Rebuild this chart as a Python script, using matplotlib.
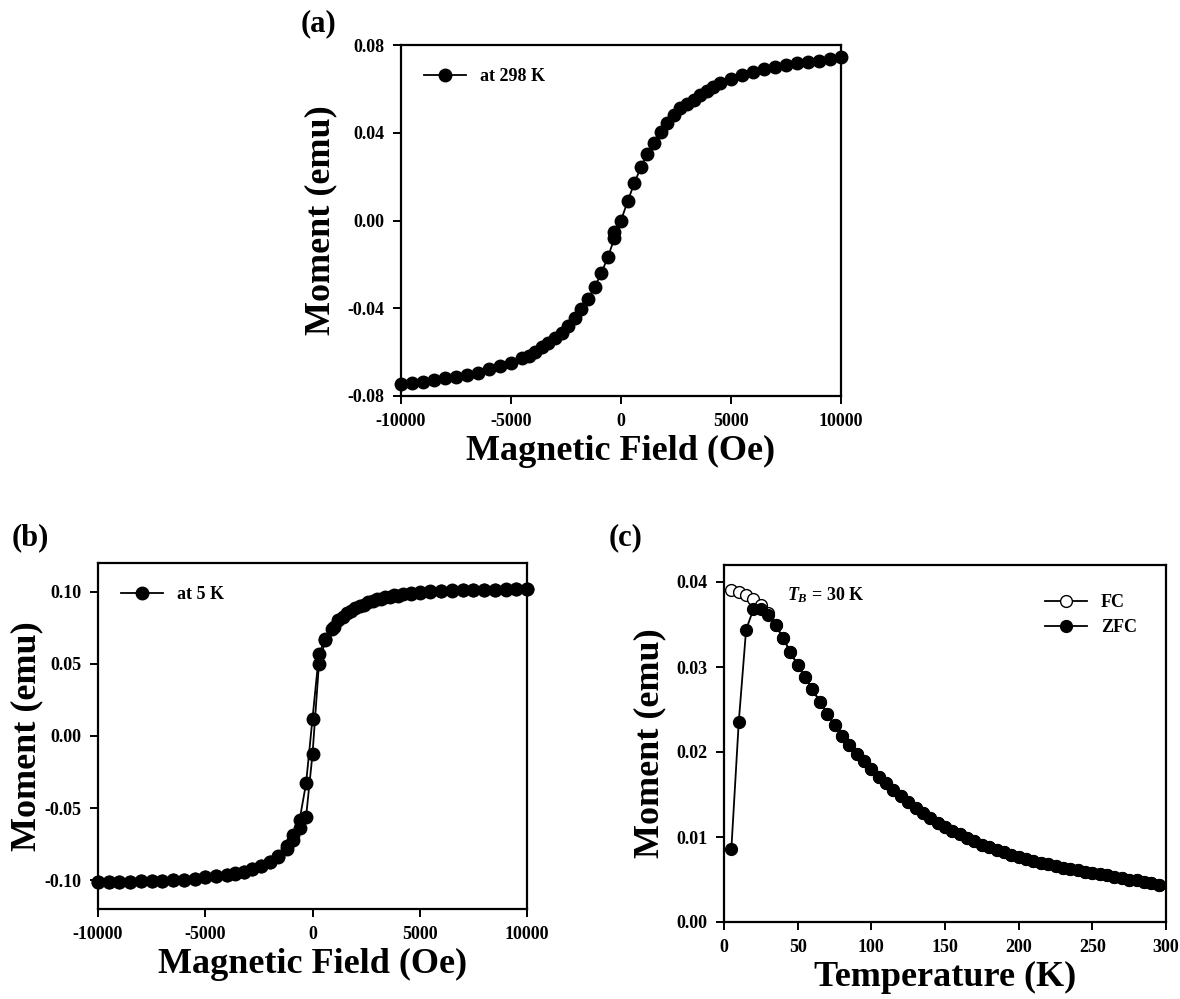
import matplotlib
matplotlib.use("Agg")
import matplotlib.pyplot as plt
from matplotlib.ticker import FormatStrFormatter

plt.rcParams['font.family'] = ['Liberation Serif', 'DejaVu Serif']
plt.rcParams['font.weight'] = 'bold'
plt.rcParams['axes.unicode_minus'] = False
plt.rcParams['mathtext.fontset'] = 'custom'
plt.rcParams['mathtext.it'] = 'Liberation Serif:italic:bold'
plt.rcParams['mathtext.rm'] = 'Liberation Serif:bold'
plt.rcParams['mathtext.bf'] = 'Liberation Serif:bold'

# ---------------- Panel (a): M-H at 298 K ----------------
field_298 = [-10000, -9500, -9000, -8500, -8000, -7500, -7000, -6500, -6000, -5500,
             -5000, -4500, -4200, -3900, -3600, -3300, -3000, -2700, -2400, -2100,
             -1800, -1500, -1200, -900, -600, -300, -300, 0, 300, 600, 900, 1200,
             1500, 1800, 2100, 2400, 2700, 3000, 3300, 3600, 3900, 4200, 4500,
             5000, 5500, 6000, 6500, 7000, 7500, 8000, 8500, 9000, 9500, 10000]
moment_298 = [-0.0747, -0.0742, -0.0735, -0.0727, -0.0720, -0.0715, -0.0705, -0.0694,
              -0.0679, -0.0663, -0.0648, -0.0628, -0.0616, -0.0598, -0.0578, -0.0560,
              -0.0537, -0.0511, -0.0481, -0.0446, -0.0405, -0.0358, -0.0305, -0.0241,
              -0.0168, -0.0081, -0.0051, 0.0000, 0.0087, 0.0169, 0.0242, 0.0303,
              0.0355, 0.0402, 0.0443, 0.0481, 0.0511, 0.0530, 0.0549, 0.0572, 0.0592,
              0.0607, 0.0625, 0.0645, 0.0663, 0.0679, 0.0691, 0.0701, 0.0711, 0.0720,
              0.0724, 0.0729, 0.0735, 0.0744]

# ---------------- Panel (b): M-H loop at 5 K ----------------
field_5K_down = [10000, 9500, 9000, 8500, 8000, 7500, 7000, 6500, 6000, 5500, 5000,
                 4600, 4200, 3800, 3400, 3000, 2600, 2200, 1800, 1400, 1000, 600, 300,
                 0, -300, -600, -900, -1200, -1600, -2000, -2400, -2800, -3200, -3600,
                 -4000, -4500, -5000, -5500, -6000, -6500, -7000, -7500, -8000, -8500,
                 -9000, -9500, -10000]
moment_5K_down = [0.1019, 0.1018, 0.1017, 0.1016, 0.1015, 0.1014, 0.1012, 0.1010, 0.1008,
                  0.1003, 0.0997, 0.0991, 0.0984, 0.0975, 0.0964, 0.0949, 0.0929, 0.0903,
                  0.0870, 0.0822, 0.0757, 0.0676, 0.0568, 0.0121, -0.0329, -0.0580,
                  -0.0690, -0.0765, -0.0830, -0.0872, -0.0900, -0.0922, -0.0940, -0.0953,
                  -0.0963, -0.0973, -0.0981, -0.0990, -0.0996, -0.1000, -0.1004, -0.1007,
                  -0.1009, -0.1010, -0.1011, -0.1012, -0.1013]
field_5K_up = [-10000, -9500, -9000, -8500, -8000, -7500, -7000, -6500, -6000, -5500,
               -5000, -4500, -4000, -3600, -3200, -2800, -2400, -2000, -1600, -1200, -900,
               -600, -300, 0, 300, 600, 900, 1200, 1600, 2000, 2400, 2800, 3200, 3600,
               4000, 4600, 5000, 5500, 6000, 6500, 7000, 7500, 8000, 8500, 9000, 9500,
               10000]
moment_5K_up = [-0.1013, -0.1012, -0.1011, -0.1010, -0.1009, -0.1007, -0.1004, -0.1000,
                -0.0996, -0.0990, -0.0981, -0.0974, -0.0965, -0.0955, -0.0942, -0.0925,
                -0.0903, -0.0876, -0.0838, -0.0785, -0.0720, -0.0640, -0.0561, -0.0126,
                0.0498, 0.0665, 0.0745, 0.0805, 0.0850, 0.0885, 0.0912, 0.0933, 0.0950,
                0.0962, 0.0972, 0.0985, 0.0995, 0.1002, 0.1006, 0.1009, 0.1011, 0.1013,
                0.1014, 0.1015, 0.1016, 0.1017, 0.1019]

# ---------------- Panel (c): FC / ZFC ----------------
temperature = [5, 10, 15, 20, 25, 30, 35, 40, 45, 50, 55, 60, 65, 70, 75, 80, 85, 90, 95,
               100, 105, 110, 115, 120, 125, 130, 135, 140, 145, 150, 155, 160, 165, 170,
               175, 180, 185, 190, 195, 200, 205, 210, 215, 220, 225, 230, 235, 240, 245,
               250, 255, 260, 265, 270, 275, 280, 285, 290, 295]
moment_zfc = [0.0086, 0.0235, 0.0344, 0.0368, 0.0368, 0.0361, 0.0350, 0.0334, 0.0318,
              0.0302, 0.0288, 0.0274, 0.0259, 0.0245, 0.0232, 0.0219, 0.0208, 0.0198,
              0.0189, 0.0180, 0.0171, 0.0163, 0.0155, 0.0148, 0.0141, 0.0134, 0.0128,
              0.0122, 0.0117, 0.0112, 0.0107, 0.0103, 0.0099, 0.0095, 0.0091, 0.0088,
              0.0085, 0.0082, 0.0079, 0.0077, 0.0074, 0.0072, 0.0070, 0.0068, 0.0066,
              0.0064, 0.0062, 0.0061, 0.0059, 0.0058, 0.0056, 0.0055, 0.0053, 0.0052,
              0.0050, 0.0049, 0.0047, 0.0046, 0.0044]
moment_fc = [0.0391, 0.0388, 0.0385, 0.0380, 0.0373, 0.0363, 0.0350, 0.0334, 0.0318,
             0.0302, 0.0288, 0.0274, 0.0259, 0.0245, 0.0232, 0.0219, 0.0208, 0.0198,
             0.0189, 0.0180, 0.0171, 0.0163, 0.0155, 0.0148, 0.0141, 0.0134, 0.0128,
             0.0122, 0.0117, 0.0112, 0.0107, 0.0103, 0.0099, 0.0095, 0.0091, 0.0088,
             0.0085, 0.0082, 0.0079, 0.0077, 0.0074, 0.0072, 0.0070, 0.0068, 0.0066,
             0.0064, 0.0062, 0.0061, 0.0059, 0.0058, 0.0056, 0.0055, 0.0053, 0.0052,
             0.0050, 0.0049, 0.0047, 0.0046, 0.0044]

W, H = 1180, 999
fig = plt.figure(figsize=(W / 100, H / 100), dpi=100)


def ax_at(left, top, right, bottom):
    return fig.add_axes([left / W, 1 - bottom / H, (right - left) / W, (bottom - top) / H])


TICK_FS = 13
LABEL_FS = 26
LEG_FS = 13


def style(ax):
    for s in ax.spines.values():
        s.set_linewidth(1.6)
    ax.tick_params(direction='out', length=6, width=1.4, labelsize=TICK_FS, pad=6)
    for lab in ax.get_xticklabels() + ax.get_yticklabels():
        lab.set_fontweight('bold')


def place_ylabel(ax, x_px, left_px, width_px):
    ax.set_ylabel('Moment (emu)', fontsize=LABEL_FS, fontweight='bold', va='center')
    ax.yaxis.set_label_coords((x_px - left_px) / width_px, 0.5)


line_kw = dict(color='black', lw=1.3, marker='o', markersize=9, markerfacecolor='black',
               markeredgecolor='black', markeredgewidth=1.0)

# ---- (a)
axa = ax_at(401, 45, 841, 396)
axa.plot(field_298, moment_298, label='at 298 K', **line_kw)
axa.set_xlim(-10000, 10000)
axa.set_ylim(-0.08, 0.08)
axa.set_xticks([-10000, -5000, 0, 5000, 10000])
axa.set_yticks([-0.08, -0.04, 0.0, 0.04, 0.08])
axa.yaxis.set_major_formatter(FormatStrFormatter('%.2f'))
axa.set_xlabel('Magnetic Field (Oe)', fontsize=LABEL_FS, fontweight='bold', labelpad=4)
place_ylabel(axa, 321, 401, 440)
axa.legend(loc='upper left', frameon=False, handlelength=2.3, borderaxespad=0.9,
           prop={'weight': 'bold', 'size': LEG_FS})
style(axa)
for p in axa.lines:
    p.set_clip_on(False)

# ---- (b)
axb = ax_at(98, 563, 527, 909)
axb.plot(field_5K_down, moment_5K_down, label='at 5 K', **line_kw)
axb.plot(field_5K_up, moment_5K_up, **line_kw)
axb.set_xlim(-10000, 10000)
axb.set_ylim(-0.12, 0.12)
axb.set_xticks([-10000, -5000, 0, 5000, 10000])
axb.set_yticks([-0.10, -0.05, 0.0, 0.05, 0.10])
axb.yaxis.set_major_formatter(FormatStrFormatter('%.2f'))
axb.set_xlabel('Magnetic Field (Oe)', fontsize=LABEL_FS, fontweight='bold', labelpad=4)
place_ylabel(axb, 27, 98, 429)
axb.legend(loc='upper left', frameon=False, handlelength=2.3, borderaxespad=0.9,
           prop={'weight': 'bold', 'size': LEG_FS})
style(axb)
for p in axb.lines:
    p.set_clip_on(False)

# ---- (c)
axc = ax_at(724, 565, 1166, 922)
fc_kw = dict(line_kw)
fc_kw.update(markerfacecolor='white', markersize=8.5)
zfc_kw = dict(line_kw)
zfc_kw.update(markersize=8.5)
axc.plot(temperature, moment_fc, label='FC', **fc_kw)
axc.plot(temperature, moment_zfc, label='ZFC', **zfc_kw)
axc.set_xlim(0, 300)
axc.set_ylim(0, 0.042)
axc.set_xticks([0, 50, 100, 150, 200, 250, 300])
axc.set_yticks([0.0, 0.01, 0.02, 0.03, 0.04])
axc.yaxis.set_major_formatter(FormatStrFormatter('%.2f'))
axc.set_xlabel('Temperature (K)', fontsize=LABEL_FS, fontweight='bold', labelpad=4)
place_ylabel(axc, 650, 724, 442)
axc.legend(loc='upper right', frameon=False, handlelength=2.3, borderaxespad=1.2,
           labelspacing=0.45, prop={'weight': 'bold', 'size': LEG_FS})
axc.text(43, 0.0384, r'$T_B$ = 30 K', fontsize=LEG_FS, fontweight='bold', va='center')
style(axc)

# panel labels
fig.text(318 / W, 1 - 24 / H, '(a)', fontsize=22, fontweight='bold', ha='center', va='center')
fig.text(30 / W, 1 - 538 / H, '(b)', fontsize=22, fontweight='bold', ha='center', va='center')
fig.text(626 / W, 1 - 538 / H, '(c)', fontsize=22, fontweight='bold', ha='center', va='center')

fig.savefig('out.png', dpi=100)
